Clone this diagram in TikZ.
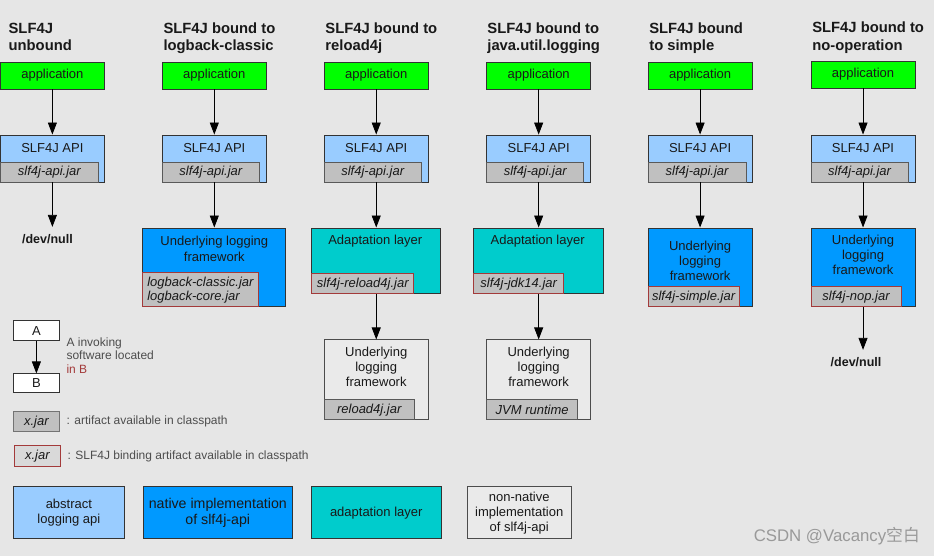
\documentclass[tikz,border=0pt]{standalone}
\usepackage{fontspec}
\setmainfont{Liberation Sans}
\newfontfamily\cjkfont{Noto Sans CJK SC}
\usetikzlibrary{arrows.meta}

\definecolor{bgc}{HTML}{E6E6E6}
\definecolor{appc}{HTML}{00FF00}
\definecolor{apic}{HTML}{99CCFF}
\definecolor{natc}{HTML}{0099FF}
\definecolor{adac}{HTML}{00CCCC}
\definecolor{nonc}{HTML}{EAEAEA}
\definecolor{jarc}{HTML}{C0C0C0}
\definecolor{bindc}{HTML}{A33A3A}
\definecolor{legc}{HTML}{4D4D4D}

\begin{document}
\begin{tikzpicture}[
  x=1pt, y=-1pt,
  >={Triangle[length=12pt,width=9pt]},
  box/.style={draw=black!80, line width=0.8pt, inner sep=0pt},
  txt/.style={font=\fontsize{13}{15}\selectfont, align=center, text=black!90, inner sep=0pt},
  title/.style={font=\fontsize{14.8}{17.4}\selectfont\bfseries, align=left,
    anchor=north west, inner sep=0pt, text=black!90},
  app/.style={box, fill=appc, minimum width=104pt, minimum height=27pt, txt},
  api/.style={box, fill=apic, minimum width=104pt, minimum height=47pt},
  nat/.style={box, fill=natc},
  ada/.style={box, fill=adac},
  non/.style={box, fill=nonc, draw=black!70},
  jar/.style={box, draw=black!65, fill=jarc, minimum height=20pt, anchor=south west,
    font=\fontsize{13}{14}\selectfont\itshape, text=black!90, align=center},
  bind/.style={jar, draw=bindc},
  null/.style={font=\fontsize{12.5}{15}\selectfont\bfseries, text=black!90, inner sep=0pt},
  legend/.style={font=\fontsize{12}{14}\selectfont, text=legc, align=left, anchor=west, inner sep=0pt},
  every edge/.style={draw, ->, line width=0.8pt, black}
]

  % background and page size
  \path[fill=bgc] (0,0) rectangle (934,556);

  % Titles
  \node[title] (t1) at (8,22.7)   {SLF4J\\unbound};
  \node[title] (t2) at (163,22.7) {SLF4J bound to\\logback-classic};
  \node[title] (t3) at (325,22.7) {SLF4J bound to\\reload4j};
  \node[title] (t4) at (487,22.7) {SLF4J bound to\\java.util.logging};
  \node[title] (t5) at (649,22.7) {SLF4J bound\\to simple};
  \node[title] (t6) at (812,21.7) {SLF4J bound to\\no-operation};

  % Applications
  \node[app] (app1) at (52,75.5)    {application};
  \node[app] (app2) at (214,75.5)   {application};
  \node[app] (app3) at (376,75.5)   {application};
  \node[app] (app4) at (538.5,75.5) {application};
  \node[app] (app5) at (700,75.5)   {application};
  \node[app] (app6) at (863,74.5)   {application};

  % SLF4J API
  \node[api] (api1) at (52,158.5)    {};
  \node[api] (api2) at (214,158.5)   {};
  \node[api] (api3) at (376,158.5)   {};
  \node[api] (api4) at (538.5,158.5) {};
  \node[api] (api5) at (700,158.5)   {};
  \node[api] (api6) at (863,158.5)   {};
  \node[txt] (api1t) at (52,147.7)    {SLF4J API};
  \node[txt] (api2t) at (214,147.7)   {SLF4J API};
  \node[txt] (api3t) at (376,147.7)   {SLF4J API};
  \node[txt] (api4t) at (538.5,147.7) {SLF4J API};
  \node[txt] (api5t) at (700,147.7)   {SLF4J API};
  \node[txt] (api6t) at (863,147.7)   {SLF4J API};
  \node[jar, minimum width=98pt] (japi1) at (api1.south west) {slf4j-api.jar};
  \node[jar, minimum width=97pt] (japi2) at (api2.south west) {slf4j-api.jar};
  \node[jar, minimum width=97pt] (japi3) at (api3.south west) {slf4j-api.jar};
  \node[jar, minimum width=97pt] (japi4) at (api4.south west) {slf4j-api.jar};
  \node[jar, minimum width=98pt] (japi5) at (api5.south west) {slf4j-api.jar};
  \node[jar, minimum width=97pt] (japi6) at (api6.south west) {slf4j-api.jar};

  % unbound
  \node[null] (null1) at (47,239.3) {/dev/null};
  \coordinate (n1) at (52,227);

  % logback-classic
  \node[nat, minimum width=143pt, minimum height=79pt] (nat2) at (214,267.5) {};
  \node[txt, font=\fontsize{13}{15.7}\selectfont] (nat2t) at (214,249) {Underlying logging\\framework};
  \node[bind, minimum width=116pt, minimum height=34pt, text width=107pt, inner xsep=4.5pt,
    align=left] (jnat2) at (nat2.south west) {logback-classic.jar\\logback-core.jar};

  % reload4j
  \node[ada, minimum width=129pt, minimum height=66pt] (ada3) at (376,261) {};
  \node[txt] (ada3t) at (375,241) {Adaptation layer};
  \node[bind, minimum width=102pt] (jada3) at (ada3.south west) {slf4j-reload4j.jar};
  \node[non, minimum width=104pt, minimum height=80pt] (non3) at (376,380) {};
  \node[txt] (non3t) at (376,367.3) {Underlying\\logging\\framework};
  \node[jar, minimum width=90pt] (jnon3) at (non3.south west) {reload4j.jar};

  % java.util.logging
  \node[ada, minimum width=130pt, minimum height=66pt] (ada4) at (538.5,261) {};
  \node[txt] (ada4t) at (537.5,241) {Adaptation layer};
  \node[bind, minimum width=90pt] (jada4) at (ada4.south west) {slf4j-jdk14.jar};
  \node[non, minimum width=104pt, minimum height=80pt] (non4) at (538.5,380) {};
  \node[txt] (non4t) at (538.5,367.3) {Underlying\\logging\\framework};
  \node[jar, minimum width=91pt] (jnon4) at (non4.south west) {JVM runtime};

  % simple
  \node[nat, minimum width=104pt, minimum height=79pt] (nat5) at (700,267.5) {};
  \node[txt, font=\fontsize{13}{14.8}\selectfont] (nat5t) at (700,260.8) {Underlying\\logging\\framework};
  \node[bind, minimum width=91pt] (jnat5) at (nat5.south west) {slf4j-simple.jar};

  % no-operation
  \node[nat, minimum width=104pt, minimum height=79pt] (nat6) at (863,267.5) {};
  \node[txt] (nat6t) at (863,254.5) {Underlying\\logging\\framework};
  \node[bind, minimum width=90pt] (jnat6) at (nat6.south west) {slf4j-nop.jar};
  \node[null] (null6) at (856,362) {/dev/null};
  \coordinate (n6) at (863,350);

  % Invocations
  \path (app1) edge (api1);
  \path (app2) edge (api2);
  \path (app3) edge (api3);
  \path (app4) edge (api4);
  \path (app5) edge (api5);
  \path (app6) edge (api6);

  \path (api1) edge (n1);
  \path (api2) edge (nat2);
  \path (api3) edge (ada3);
  \path (api4) edge (ada4);
  \path (api5) edge (nat5);
  \path (api6) edge (nat6);

  \path (ada3) edge (non3);
  \path (ada4) edge (non4);
  \path (nat6) edge (n6);

  % Legend
  \node[box, fill=white, minimum width=46pt, minimum height=20pt, txt] (lgA) at (36,331) {A};
  \node[box, fill=white, minimum width=46pt, minimum height=19pt, txt] (lgB) at (36,383.5) {B};
  \path (lgA) edge (lgB);
  \node[legend] (lgAt) at (66,355.8) {A invoking\\software located\\\textcolor{bindc}{in B}};

  \node[jar, anchor=center, minimum width=46pt, draw=black!55] (lgjar) at (36,422) {x.jar};
  \node[legend] (lgjart) at (66,422) {: artifact available in classpath};
  \node[bind, anchor=center, minimum width=46pt, minimum height=21pt, fill=black!15] (lgbind) at (37,456.5) {x.jar};
  \node[legend] (lgbindt) at (67,456.5) {: SLF4J binding artifact available in classpath};

  \node[box, fill=apic, minimum width=111pt, minimum height=52pt, txt] (lgabs) at (68.5,513) {abstract\\logging api};
  \node[box, fill=natc, minimum width=149pt, minimum height=52pt, txt,
    font=\fontsize{14.2}{16}\selectfont] (lgnat) at (217.5,513) {native implementation\\of slf4j-api};
  \node[box, fill=adac, minimum width=130pt, minimum height=52pt, txt] (lgada) at (376,513) {adaptation layer};
  \node[non, minimum width=104pt, minimum height=52pt, txt] (lgnon) at (519,513) {non-native\\implementation\\of slf4j-api};

  % watermark
  \node[anchor=east, inner sep=0pt, text=black!40, font=\fontsize{16.8}{18}\selectfont] (wm)
    at (920,536.5) {CSDN @Vacancy{\cjkfont 空白}};

\end{tikzpicture}
\end{document}
